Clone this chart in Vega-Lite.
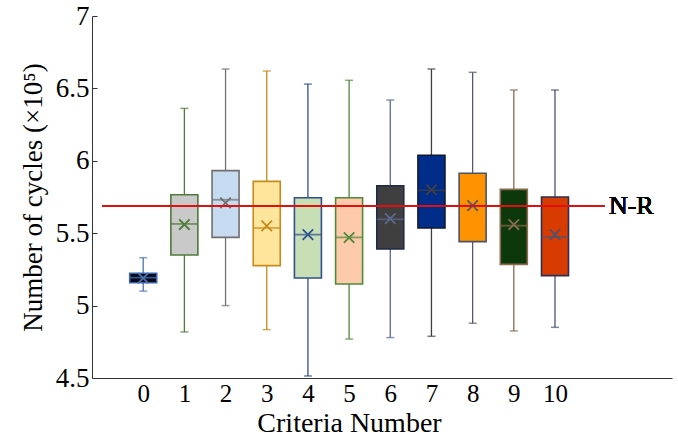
{
  "$schema": "https://vega.github.io/schema/vega-lite/v6.json",
  "width": 580,
  "height": 362,
  "autosize": "none",
  "padding": {"left": 92, "top": 16, "right": 6, "bottom": 65},
  "background": "white",
  "config": {
    "view": {"stroke": null},
    "font": "Liberation Serif",
    "axis": {"labelFont": "Liberation Serif", "titleFont": "Liberation Serif", "labelColor": "#000", "titleColor": "#000", "domainColor": "#333", "tickColor": "#333", "grid": false, "titleFontWeight": "normal"}
  },
  "data": {"values": [
    {"c": 0, "lo": 5.10, "q1": 5.158, "med": 5.193, "q3": 5.223, "hi": 5.331, "mean": 5.19},
    {"c": 1, "lo": 4.818, "q1": 5.349, "med": 5.564, "q3": 5.766, "hi": 6.362, "mean": 5.56},
    {"c": 2, "lo": 5.0, "q1": 5.471, "med": 5.731, "q3": 5.932, "hi": 6.634, "mean": 5.71},
    {"c": 3, "lo": 4.834, "q1": 5.276, "med": 5.536, "q3": 5.858, "hi": 6.62, "mean": 5.55},
    {"c": 4, "lo": 4.514, "q1": 5.191, "med": 5.49, "q3": 5.745, "hi": 6.53, "mean": 5.49},
    {"c": 5, "lo": 4.769, "q1": 5.149, "med": 5.471, "q3": 5.745, "hi": 6.556, "mean": 5.47},
    {"c": 6, "lo": 4.779, "q1": 5.391, "med": 5.596, "q3": 5.828, "hi": 6.42, "mean": 5.60},
    {"c": 7, "lo": 4.788, "q1": 5.536, "med": 5.796, "q3": 6.038, "hi": 6.634, "mean": 5.80},
    {"c": 8, "lo": 4.878, "q1": 5.442, "med": 5.69, "q3": 5.914, "hi": 6.611, "mean": 5.69},
    {"c": 9, "lo": 4.825, "q1": 5.285, "med": 5.552, "q3": 5.803, "hi": 6.489, "mean": 5.56},
    {"c": 10, "lo": 4.85, "q1": 5.207, "med": 5.474, "q3": 5.75, "hi": 6.489, "mean": 5.49}
  ]},
  "layer": [
    {
      "mark": {"type": "rule", "strokeWidth": 1.3},
      "encoding": {
        "x": {"field": "c", "type": "quantitative", "scale": {"domain": [-1.122, 12.72], "nice": false, "zero": false},
          "axis": {"values": [0,1,2,3,4,5,6,7,8,9,10], "format": "d", "ticks": false, "labelFontSize": 25, "labelPadding": 3, "title": "Criteria Number", "titleFontSize": 28, "titleX": 257, "titlePadding": 3}},
        "y": {"field": "lo", "type": "quantitative", "scale": {"domain": [4.5, 7], "nice": false, "zero": false},
          "axis": {"values": [4.5,5,5.5,6,6.5,7], "labelExpr": "datum.value", "tickSize": -5, "labelFontSize": 27, "labelPadding": 8, "title": "Number of cycles (×10⁵)", "titleFontSize": 27, "titlePadding": 8}},
        "y2": {"field": "hi"},
        "color": {"field": "c", "type": "nominal", "legend": null,
          "scale": {"domain": [0,1,2,3,4,5,6,7,8,9,10], "range": ["#4a72b0", "#4e7a3a", "#707070", "#c88a1a", "#2f4f8f", "#4e8a3a", "#5a6a8e", "#404040", "#555a66", "#8a6a4e", "#4a5272"]}}
      }
    },
    {
      "mark": {"type": "tick", "orient": "horizontal", "size": 8, "thickness": 1.5},
      "encoding": {
        "x": {"field": "c", "type": "quantitative"},
        "y": {"field": "lo", "type": "quantitative"},
        "color": {"field": "c", "type": "nominal", "legend": null}
      }
    },
    {
      "mark": {"type": "tick", "orient": "horizontal", "size": 8, "thickness": 1.5},
      "encoding": {
        "x": {"field": "c", "type": "quantitative"},
        "y": {"field": "hi", "type": "quantitative"},
        "color": {"field": "c", "type": "nominal", "legend": null}
      }
    },
    {
      "mark": {"type": "bar", "width": 27, "strokeWidth": 1.6, "opacity": 1},
      "encoding": {
        "x": {"field": "c", "type": "quantitative"},
        "y": {"field": "q1", "type": "quantitative"},
        "y2": {"field": "q3"},
        "fill": {"field": "c", "type": "nominal", "legend": null,
          "scale": {"domain": [0,1,2,3,4,5,6,7,8,9,10], "range": ["#050a1a", "#c9c9c9", "#c6daf0", "#fee59c", "#c8dfb6", "#fdcbac", "#3f3f3f", "#002c8a", "#ff9200", "#0c380b", "#d83b02"]}},
        "stroke": {"field": "c", "type": "nominal", "legend": null,
          "scale": {"domain": [0,1,2,3,4,5,6,7,8,9,10], "range": ["#3a64a8", "#4e7a3a", "#707070", "#c88a1a", "#2f4f8f", "#4e8a3a", "#1e2a4a", "#101830", "#4a5468", "#8a6a4e", "#2a3050"]}}
      }
    },
    {
      "mark": {"type": "tick", "orient": "horizontal", "size": 27, "thickness": 1.8},
      "encoding": {
        "x": {"field": "c", "type": "quantitative"},
        "y": {"field": "med", "type": "quantitative"},
        "color": {"field": "c", "type": "nominal", "legend": null}
      }
    },
    {
      "mark": {"type": "point", "shape": "M-1,-1L1,1M1,-1L-1,1", "size": 110, "filled": false, "strokeWidth": 1.8, "opacity": 1},
      "encoding": {
        "x": {"field": "c", "type": "quantitative"},
        "y": {"field": "mean", "type": "quantitative"},
        "color": {"field": "c", "type": "nominal", "legend": null}
      }
    },
    {
      "mark": {"type": "rule", "color": "#e01010", "strokeWidth": 1.5},
      "encoding": {
        "x": {"datum": -1.0},
        "x2": {"datum": 11.2},
        "y": {"datum": 5.69}
      }
    },
    {
      "mark": {"type": "text", "align": "left", "baseline": "middle", "fontSize": 26, "fontWeight": 400, "font": "Liberation Serif", "fill": "#000", "strokeWidth": 0},
      "encoding": {
        "x": {"datum": 11.31},
        "y": {"datum": 5.69},
        "text": {"value": "N-R"}
      }
    }
  ]
}
